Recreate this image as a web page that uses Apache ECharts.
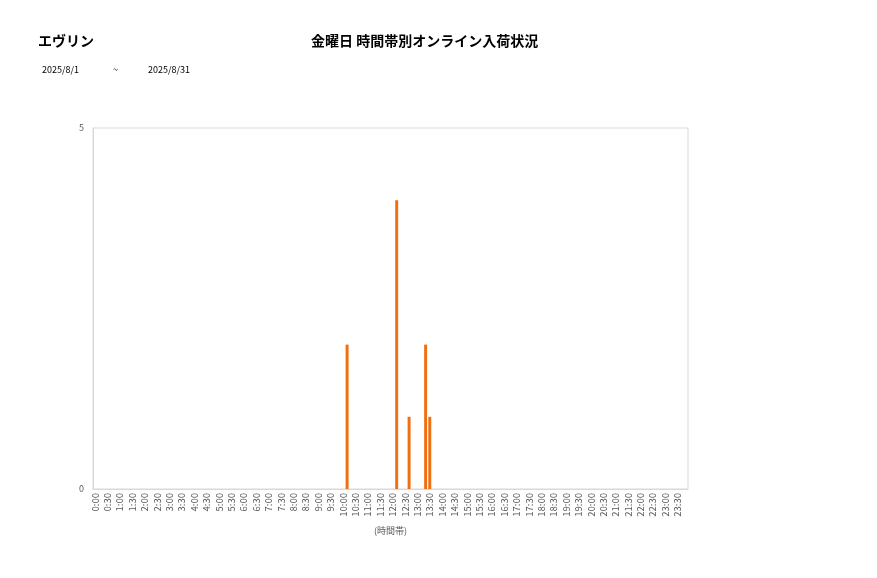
<!DOCTYPE html>
<html><head><meta charset="utf-8">
<script src="https://cdn.jsdelivr.net/npm/echarts@6/dist/echarts.min.js"></script>
<style>html,body{margin:0;padding:0;background:#fff}#c{width:877px;height:578px}</style>
</head><body><div id="c"></div>
<script>
const storeName = 'エヴリン';
const chartTitle = '金曜日 時間帯別オンライン入荷状況';
const dateFrom = '2025/8/1';
const dateSep = '~';
const dateTo = '2025/8/31';
const xAxisName = '(時間帯)';
const categories = [];
for (let h = 0; h < 24; h++) for (let m = 0; m < 60; m += 10) categories.push(h + ':' + (m < 10 ? '0' + m : m));
const values = [
  0,0,0,0,0,0,0,0,0,0,0,0,
  0,0,0,0,0,0,0,0,0,0,0,0,
  0,0,0,0,0,0,0,0,0,0,0,0,
  0,0,0,0,0,0,0,0,0,0,0,0,
  0,0,0,0,0,0,0,0,0,0,0,0,
  0,2,0,0,0,0,0,0,0,0,0,0,
  0,4,0,0,1,0,0,0,2,1,0,0,
  0,0,0,0,0,0,0,0,0,0,0,0,
  0,0,0,0,0,0,0,0,0,0,0,0,
  0,0,0,0,0,0,0,0,0,0,0,0,
  0,0,0,0,0,0,0,0,0,0,0,0,
  0,0,0,0,0,0,0,0,0,0,0,0
];
const yMin = 0, yMax = 5, yStep = 5;
const font = '"Noto Sans CJK JP", "Noto Sans", sans-serif';
const chart = echarts.init(document.getElementById('c'), null, {renderer: 'canvas'});
chart.setOption({
  animation: false,
  textStyle: {fontFamily: font},
  graphic: [
    {type: 'text', left: 38, top: 34, style: {text: storeName, font: 'bold 14px ' + font, fill: '#000'}},
    {type: 'text', left: 311, top: 34, style: {text: chartTitle, font: 'bold 14px ' + font, fill: '#000'}},
    {type: 'text', left: 42, top: 65, style: {text: dateFrom, font: '9px ' + font, fill: '#000'}},
    {type: 'text', left: 113, top: 65, style: {text: dateSep, font: '9px ' + font, fill: '#000'}},
    {type: 'text', left: 148, top: 65, style: {text: dateTo, font: '9px ' + font, fill: '#000'}}
  ],
  grid: {left: 93, right: 189, top: 128, bottom: 89, show: true, borderColor: '#d9d9d9', borderWidth: 1, containLabel: false},
  xAxis: {
    type: 'category', data: categories,
    name: xAxisName, nameLocation: 'middle', nameGap: 37,
    nameTextStyle: {fontSize: 9, color: '#595959', fontFamily: font},
    axisLine: {lineStyle: {color: '#d9d9d9'}},
    axisTick: {show: false},
    axisLabel: {interval: 2, rotate: 90, fontSize: 9.5, color: '#595959', margin: 4, fontFamily: font},
    splitLine: {show: false}
  },
  yAxis: {
    type: 'value', min: yMin, max: yMax, interval: yStep,
    axisLine: {show: true, lineStyle: {color: '#d9d9d9'}},
    axisTick: {show: false},
    axisLabel: {fontSize: 9, color: '#595959', margin: 9, fontFamily: font},
    splitLine: {show: false}
  },
  series: [{
    type: 'bar', data: values, barWidth: '72%',
    itemStyle: {color: '#EE7012'}
  }]
});
</script></body></html>
